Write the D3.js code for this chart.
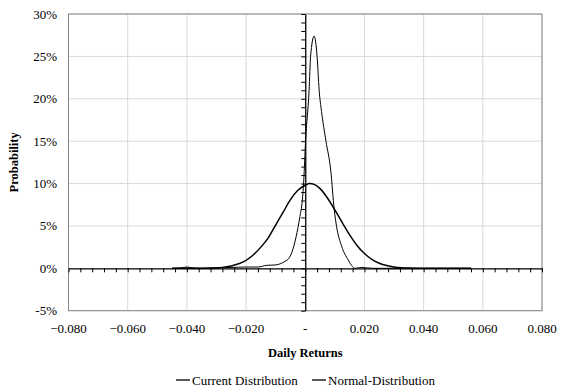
<!DOCTYPE html>
<html>
<head>
<meta charset="utf-8">
<script src="https://cdn.jsdelivr.net/npm/d3@7"></script>
<style>
body { margin: 0; background: #fff; }
svg text { font-family: "Liberation Serif", "Times New Roman", serif; fill: #000; }
</style>
</head>
<body>
<svg id="chart"></svg>
<script>
var w = 571;
var h = 387;
var margin = { left: 68.5, right: 29, top: 14, bottom: 76 };

// current distribution (return, probability %)
var currentX = [-0.045, -0.042, -0.040, -0.038, -0.035, -0.030, -0.025, -0.020, -0.016, -0.013, -0.010, -0.008, -0.0065, -0.0057, -0.0044, -0.0031, -0.0018, -0.0010, -0.0005, 0.0001, 0.0013, 0.0018, 0.0030, 0.0040, 0.0047, 0.0055, 0.0070, 0.0086, 0.0098, 0.0106, 0.0123, 0.0145, 0.0160, 0.0168, 0.0190, 0.0210, 0.0230, 0.0300, 0.0400, 0.0560];
var currentY = [0, 0.05, 0.15, 0.05, 0, 0.05, 0.1, 0.15, 0.15, 0.35, 0.4, 0.6, 0.9, 1.1, 2.0, 3.7, 6.1, 8.0, 10.4, 15.0, 21.0, 25.0, 27.4, 25.0, 21.0, 18.5, 15.0, 11.6, 6.9, 4.9, 2.6, 1.0, 0.2, 0, 0.1, 0.05, 0, 0, 0, 0];

// normal distribution (return, probability %)
var normalX = [-0.045, -0.040, -0.035, -0.030, -0.0275, -0.025, -0.0225, -0.020, -0.0175, -0.015, -0.0125, -0.010, -0.0075, -0.005, -0.0025, 0, 0.0015, 0.003, 0.005, 0.0075, 0.010, 0.0125, 0.015, 0.0175, 0.020, 0.0225, 0.025, 0.0275, 0.030, 0.0325, 0.035, 0.040, 0.056];
var normalY = [0, 0, 0.01, 0.06, 0.14, 0.28, 0.53, 0.94, 1.6, 2.5, 3.6, 5.1, 6.6, 8.1, 9.2, 9.8, 10.0, 9.9, 9.4, 8.3, 6.9, 5.4, 3.95, 2.7, 1.74, 1.05, 0.6, 0.32, 0.16, 0.07, 0.03, 0, 0];

var xTicks = [-0.08, -0.06, -0.04, -0.02, 0, 0.02, 0.04, 0.06, 0.08];
var yTicks = [-5, 0, 5, 10, 15, 20, 25, 30];
var seriesNames = ["Current Distribution", "Normal-Distribution"];

var svg = d3.select("#chart")
	.attr("width", w)
	.attr("height", h);

var xScale = d3.scaleLinear()
	.domain([-0.08, 0.08])
	.range([margin.left, w - margin.right]);
var yScale = d3.scaleLinear()
	.domain([-5, 30])
	.range([h - margin.bottom - 0.3, margin.top]);

// gridlines
svg.append("g")
	.selectAll("line")
	.data(xTicks.filter(function (d) { return d !== 0; }))
	.enter()
	.append("line")
	.attr("x1", function (d) { return xScale(d); })
	.attr("x2", function (d) { return xScale(d); })
	.attr("y1", yScale(30))
	.attr("y2", yScale(-5))
	.attr("stroke", "#d9d9d9")
	.attr("stroke-width", 1);
svg.append("g")
	.selectAll("line")
	.data(yTicks.filter(function (d) { return d !== 0; }))
	.enter()
	.append("line")
	.attr("x1", xScale(-0.08))
	.attr("x2", xScale(0.08))
	.attr("y1", function (d) { return yScale(d); })
	.attr("y2", function (d) { return yScale(d); })
	.attr("stroke", "#d9d9d9")
	.attr("stroke-width", 1);

// plot border
svg.append("rect")
	.attr("x", xScale(-0.08))
	.attr("y", yScale(30))
	.attr("width", xScale(0.08) - xScale(-0.08))
	.attr("height", yScale(-5) - yScale(30))
	.attr("fill", "none")
	.attr("stroke", "#868686")
	.attr("stroke-width", 1);

// axes crossing at zero
var xAxis = d3.axisBottom(xScale)
	.tickValues(d3.range(-0.08, 0.0801, 0.004))
	.tickSize(4)
	.tickSizeOuter(0)
	.tickFormat("");
svg.append("g")
	.classed("xAxis", true)
	.attr("transform", "translate(0," + yScale(0) + ")")
	.call(xAxis);
var yAxis = d3.axisLeft(yScale)
	.tickValues(d3.range(-5, 30.1, 1))
	.tickSize(4)
	.tickSizeOuter(0)
	.tickFormat("");
svg.append("g")
	.classed("yAxis", true)
	.attr("transform", "translate(" + xScale(0) + ",0)")
	.call(yAxis);
svg.selectAll(".xAxis path, .yAxis path")
	.attr("stroke", "#000")
	.attr("stroke-width", 1.3);
svg.selectAll(".xAxis line, .yAxis line")
	.attr("stroke", "#000");

// tick labels
svg.append("g")
	.selectAll("text")
	.data(xTicks)
	.enter()
	.append("text")
	.attr("x", function (d) { return xScale(d); })
	.attr("y", 333)
	.attr("text-anchor", "middle")
	.style("font-size", "13px")
	.text(function (d) { return d === 0 ? "-" : d3.format(".3f")(d); });
svg.append("g")
	.selectAll("text")
	.data(yTicks)
	.enter()
	.append("text")
	.attr("x", 57)
	.attr("y", function (d) { return yScale(d); })
	.attr("dy", "0.35em")
	.attr("text-anchor", "end")
	.style("font-size", "13px")
	.text(function (d) { return d + "%"; });

// titles
svg.append("text")
	.attr("x", xScale(0))
	.attr("y", 357)
	.attr("text-anchor", "middle")
	.style("font-size", "12.5px")
	.style("font-weight", "bold")
	.text("Daily Returns");
svg.append("text")
	.attr("transform", "translate(18," + yScale(12.5) + ") rotate(-90)")
	.attr("text-anchor", "middle")
	.style("font-size", "12.5px")
	.style("font-weight", "bold")
	.text("Probability");

// lines
var line = d3.line()
	.x(function (d) { return xScale(d[0]); })
	.y(function (d) { return yScale(d[1]); })
	.curve(d3.curveMonotoneX);
svg.append("path")
	.datum(d3.zip(normalX, normalY))
	.attr("d", line)
	.attr("fill", "none")
	.attr("stroke", "#000")
	.attr("stroke-width", 1.5);
svg.append("path")
	.datum(d3.zip(currentX, currentY))
	.attr("d", line)
	.attr("fill", "none")
	.attr("stroke", "#000")
	.attr("stroke-width", 1);

// legend
var legend = svg.append("g");
var lx = [176, 312];
legend.selectAll("line")
	.data(seriesNames)
	.enter()
	.append("line")
	.attr("x1", function (d, i) { return lx[i]; })
	.attr("x2", function (d, i) { return lx[i] + 14; })
	.attr("y1", 380)
	.attr("y2", 380)
	.attr("stroke", "#000")
	.attr("stroke-width", 1.3);
legend.selectAll("text")
	.data(seriesNames)
	.enter()
	.append("text")
	.attr("x", function (d, i) { return lx[i] + 16; })
	.attr("y", 384.5)
	.style("font-size", "13px")
	.text(function (d) { return d; });
</script>
</body>
</html>
